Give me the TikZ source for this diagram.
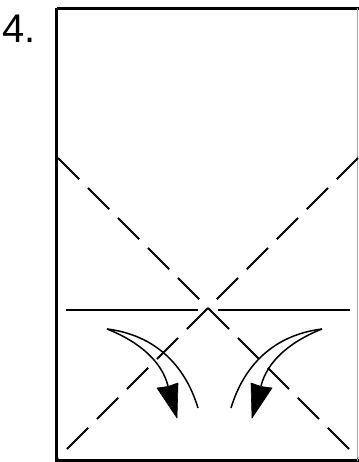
\documentclass[tikz,border=0pt]{standalone}
\usepackage{fontspec}
\setmainfont{Liberation Sans}
\usetikzlibrary{calc}
\tikzset{
  sheet/.style={line width=3.5pt, draw=black},
  crease/.style={line width=1.8pt, draw=black, dash pattern=on 30pt off 12.4pt},
  guide/.style={line width=1.2pt, draw=black},
  curl/.style={line width=1.5pt, draw=black},
  curlhead/.style={fill=black, draw=black, line width=0.6pt, line join=round},
  steplbl/.style={font=\fontsize{40}{40}\selectfont, inner sep=0pt, anchor=base west},
}
\begin{document}
\begin{tikzpicture}[x=1pt, y=-1pt]
  \useasboundingbox (0,0) rectangle (358,462);
  \node[steplbl] (num) at (2,43) {4.};
  % paper
  \draw[sheet] (56.5,8.5) -- (56.5,461) -- (360,461);
  \draw[sheet] (56.5,8.5) -- (360,8.5);
  \draw[guide, draw=black!35] (357.6,8.5) -- (357.6,461);
  % valley creases
  \coordinate (tl) at (58,158);
  \coordinate (tr) at (358,158);
  \coordinate (bl) at (58,458);
  \coordinate (br) at (358,458);
  \draw[crease] (tl) -- (br);
  \draw[crease] (tr) -- (bl);
  % reference line
  \draw[guide] (66,310) -- (198,310);
  \draw[guide] (218,310) -- (350,310);
  % fold arrows, right one mirrored
  \foreach \s/\dx in {1/0, -1/429} {
    \begin{scope}[shift={(\dx,0)}, xscale=\s]
      \coordinate (start) at (107,329);
      \draw[curl] (start) .. controls (155,335) and (185,365) .. (198,408);
      \draw[curl] (start) .. controls (140,342) and (162,362) .. (168,386);
      \filldraw[curlhead] (157,388) -- (177,418) -- (178,383) -- (168,386.5) -- cycle;
    \end{scope}
  }
\end{tikzpicture}
\end{document}
